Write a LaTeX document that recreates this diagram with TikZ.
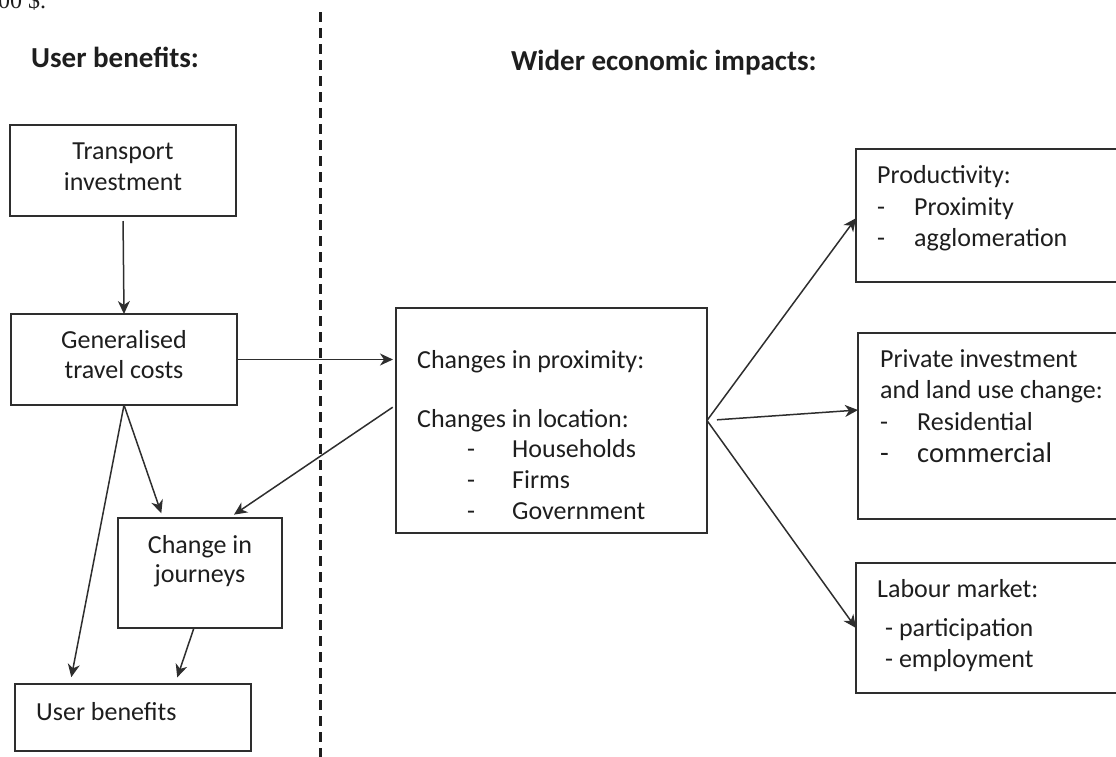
\documentclass[tikz,border=0pt]{standalone}
\usepackage{fontspec}
\setmainfont{Carlito}
\newfontfamily\fragfont{Liberation Serif}
\usetikzlibrary{arrows.meta,calc}
\definecolor{ink}{HTML}{1E1E1E}
\definecolor{edge}{HTML}{2E2E2E}

\tikzset{
  box/.style={draw=edge, line width=1.5pt, inner sep=0pt, outer sep=0pt, rectangle},
  txt/.style={font=\fontsize{26}{31}\selectfont, text=ink, inner sep=0pt, anchor=base west},
  ctxt/.style={txt, anchor=base},
  bigtxt/.style={txt, font=\fontsize{28.5}{33}\selectfont},
  head/.style={font=\fontsize{29}{34}\selectfont\bfseries, text=ink, inner sep=0pt, anchor=base west},
  arr/.style={draw=edge, line width=1.5pt, -{Stealth[length=13pt,width=12pt,inset=4pt]}},
  divider/.style={draw=ink, line width=3pt, dash pattern=on 10pt off 6pt}
}

\begin{document}
\begin{tikzpicture}[x=1pt,y=-1pt]
\useasboundingbox (0,0) rectangle (1116,756);

% fragment of the preceding line
\node[font=\fragfont\fontsize{24}{28}\selectfont, text=ink, inner sep=0pt, anchor=base west] (frag) at (-2,8) {00 \$.};

% headings
\node[head] (hleft) at (31,67) {User benefits:};
\node[head] (hright) at (511,70) {Wider economic impacts:};

% dividing line
\coordinate (divtop) at (320,12);
\coordinate (divbot) at (320,762);
\draw[divider] (divtop) -- (divbot);

% boxes
\node[box, minimum width=226pt, minimum height=91pt] (ti) at (123,170.5) {};
\node[box, minimum width=226pt, minimum height=91pt] (gtc) at (124,359.5) {};
\node[box, minimum width=164pt, minimum height=110pt] (cij) at (200,573) {};
\node[box, minimum width=236pt, minimum height=67pt] (ub) at (133,717.5) {};
\node[box, minimum width=311pt, minimum height=225pt] (cp) at (551.5,420.5) {};
\node[box, minimum width=269pt, minimum height=133pt] (prod) at (990.5,215.5) {};
\node[box, minimum width=267pt, minimum height=186pt] (priv) at (991.5,426) {};
\node[box, minimum width=269pt, minimum height=130pt] (lab) at (990.5,628) {};

% texts, left column
\node[ctxt] (ti1) at (123,159) {Transport};
\node[ctxt] (ti2) at (123,190) {investment};
\node[ctxt] (gtc1) at (124,348) {Generalised};
\node[ctxt] (gtc2) at (124,378) {travel costs};
\node[ctxt] (cij1) at (200,553) {Change in};
\node[ctxt] (cij2) at (200,582) {journeys};
\node[txt] (ub1) at (36,720) {User benefits};

% texts, middle box
\node[txt] (cp1) at (417,368) {Changes in proximity:};
\node[txt] (cp2) at (417,427) {Changes in location:};
\node[txt] (cpd1) at (467,457) {-};
\node[txt] (cp3) at (512,457) {Households};
\node[txt] (cpd2) at (467,488) {-};
\node[txt] (cp4) at (512,488) {Firms};
\node[txt] (cpd3) at (467,519) {-};
\node[txt] (cp5) at (512,519) {Government};

% texts, right column
\node[txt] (pr1) at (877,183) {Productivity:};
\node[txt] (prd1) at (877,215) {-};
\node[txt] (pr2) at (914,215) {Proximity};
\node[txt] (prd2) at (877,246) {-};
\node[txt] (pr3) at (914,246) {agglomeration};

\node[txt] (pv1) at (880,367) {Private investment};
\node[txt] (pv2) at (880,398) {and land use change:};
\node[txt] (pvd1) at (880,430) {-};
\node[txt] (pv3) at (917,430) {Residential};
\node[bigtxt] (pvd2) at (880,462) {-};
\node[bigtxt] (pv4) at (917,462) {commercial};

\node[txt] (lb1) at (877,597) {Labour market:};
\node[txt] (lb2) at (885,636) {- participation};
\node[txt] (lb3) at (885,667) {- employment};

% connectors
\draw[arr, shorten <=5pt] (ti.south) -- (gtc.north);
\draw[arr, shorten >=3pt] (gtc.east) -- (gtc.east -| cp.west);
\draw[arr, shorten >=5pt] (gtc.south) -- ($(cij.north west)!0.274!(cij.north east)$);
\draw[arr, shorten >=7pt] (gtc.south) -- ($(ub.north west)!0.233!(ub.north east)$);
\draw[arr, shorten >=7pt] ($(cij.south west)!0.463!(cij.south east)$) -- ($(ub.north west)!0.678!(ub.north east)$);
\draw[arr, shorten <=4pt, shorten >=6pt] ($(cp.north west)!0.431!(cp.south west)$) -- ($(cij.north west)!0.677!(cij.north east)$);
\draw[arr] (cp.east) -- ($(prod.north west)!0.52!(prod.south west)$);
\draw[arr, shorten <=10pt] (cp.east) -- ($(priv.north west)!0.414!(priv.south west)$);
\draw[arr] (cp.east) -- (lab.west);
\end{tikzpicture}
\end{document}
